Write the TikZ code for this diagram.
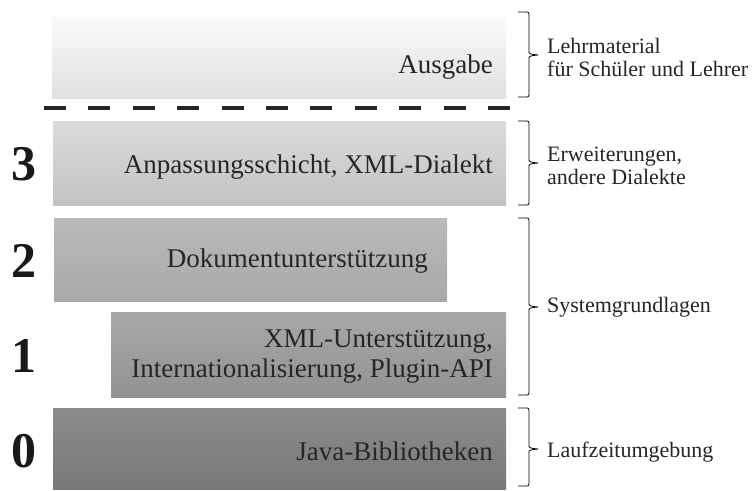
\documentclass[tikz,border=0pt]{standalone}
\usepackage{fontspec}
\setmainfont{Liberation Serif}
\begin{document}
\begin{tikzpicture}[x=1pt,y=-1pt,
  maintext/.style={inner sep=0pt,text=black!85,font=\fontsize{27}{30}\selectfont},
  sidetext/.style={inner sep=0pt,text=black!85,align=left,font=\fontsize{22}{23}\selectfont},
  levelnum/.style={inner sep=0pt,anchor=base,text=black!90,font=\fontsize{50}{50}\selectfont\bfseries},
  bracepath/.style={draw=black,line width=0.8pt,line join=round}
]
\useasboundingbox (0,0) rectangle (752,490);

% layers, light on top, darker towards the runtime
\shade[top color=white!98!black,bottom color=white!88!black] (52,17) rectangle (506,98);
\shade[top color=white!86!black,bottom color=white!76!black] (53,121) rectangle (506,205);
\shade[top color=white!73!black,bottom color=white!66!black] (54,218) rectangle (447,301);
\shade[top color=white!66!black,bottom color=white!57!black] (111,312) rectangle (506,397);
\shade[top color=white!55!black,bottom color=white!47!black] (53,408) rectangle (506,489);

\coordinate (dashL) at (44,108);
\coordinate (dashR) at (510,108);
\draw[line width=4pt,dash pattern=on 22pt off 22.4pt,black!85] (dashL) -- (dashR);

% layer texts
\node[maintext,anchor=base east] (out) at (493,73) {Ausgabe};
\node[maintext,anchor=base east] (adapt) at (493,173) {Anpassungsschicht, XML-Dialekt};
\node[maintext,anchor=base east] (doc) at (428,267) {Dokumentunterstützung};
\node[maintext,anchor=east,align=right] (xml) at (493,357) {XML-Unterstützung,\\Internationalisierung, Plugin-API};
\node[maintext,anchor=base east] (java) at (493,460) {Java-Bibliotheken};

% level numbers
\node[levelnum] (n3) at (24,180) {3};
\node[levelnum] (n2) at (24,277) {2};
\node[levelnum] (n1) at (24,372) {1};
\node[levelnum] (n0) at (24,467) {0};

% curly braces on the right: #1 top, #2 tip, #3 bottom
\newcommand\sidebrace[3]{%
  \draw[bracepath] (518,#1) -- (525,#1) .. controls (529,#1) .. (529,#1+5)
    -- (529,#2-4) .. controls (529,#2-1) .. (538,#2)
    .. controls (529,#2+1) .. (529,#2+4)
    -- (529,#3-5) .. controls (529,#3) .. (525,#3) -- (518,#3);}
\sidebrace{12}{55}{97}
\sidebrace{121}{163}{205}
\sidebrace{218}{307}{395}
\sidebrace{408}{449}{486}

% descriptions
\node[sidetext,anchor=west] (teach) at (547,57) {Lehrmaterial\\für Schüler und Lehrer};
\node[sidetext,anchor=west] (ext) at (547,166) {Erweiterungen,\\andere Dialekte};
\node[sidetext,anchor=base west] (sys) at (547,312) {Systemgrundlagen};
\node[sidetext,anchor=base west] (rt) at (547,457) {Laufzeitumgebung};
\end{tikzpicture}
\end{document}
